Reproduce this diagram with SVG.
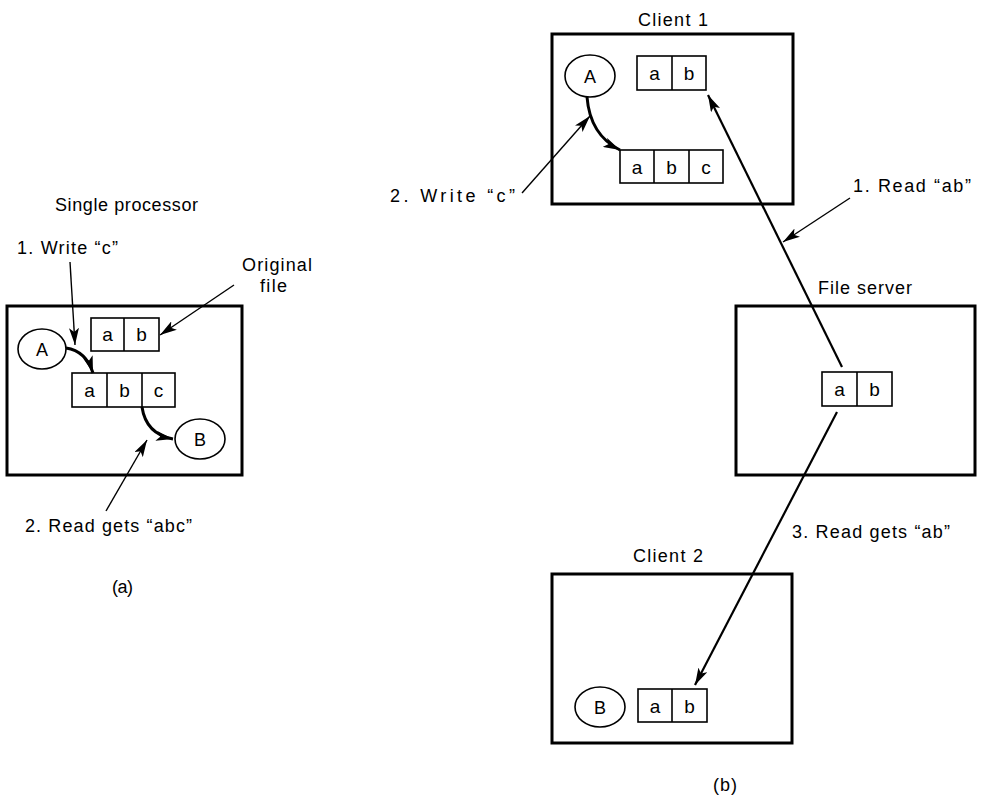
<svg xmlns="http://www.w3.org/2000/svg" width="981" height="797" viewBox="0 0 981 797">
<style>
text{font-family:"Liberation Sans",Arial,sans-serif;fill:#000}
.lbl{font-size:18px}
.cell{font-size:19px;text-anchor:middle}
.proc{font-size:18px;text-anchor:middle}
.box{fill:none;stroke:#000;stroke-width:3}
.c{fill:#fff;stroke:#000;stroke-width:1.6}
.e{fill:#fff;stroke:#000;stroke-width:1.6}
.thin{fill:none;stroke:#000;stroke-width:1.4}
.main{fill:none;stroke:#000;stroke-width:2.2}
.curve{fill:none;stroke:#000;stroke-width:3}
</style>
<defs>
<marker id="ah" viewBox="0 0 17 10" markerUnits="userSpaceOnUse" markerWidth="17" markerHeight="10" refX="17" refY="5" orient="auto">
<path d="M0,0 L17,5 L0,10 L4,5 Z" fill="#000"/>
</marker>
</defs>
<rect width="981" height="797" fill="#fff"/>

<!-- (a) Single processor -->
<g id="single-processor">
<rect class="box" x="7" y="306" width="235" height="169"/>
<text class="lbl" x="55" y="211" textLength="143" lengthAdjust="spacing">Single processor</text>
</g>
<g id="a-original">
<rect class="c" x="91" y="318" width="68" height="33"/>
<line class="c" x1="124" y1="318" x2="124" y2="351"/>
<text class="cell" x="107.5" y="341">a</text>
<text class="cell" x="141.5" y="341">b</text>
</g>
<g id="a-new">
<rect class="c" x="72" y="373" width="103" height="34"/>
<line class="c" x1="107" y1="373" x2="107" y2="407"/>
<line class="c" x1="142" y1="373" x2="142" y2="407"/>
<text class="cell" x="89.5" y="397">a</text>
<text class="cell" x="124.5" y="397">b</text>
<text class="cell" x="158.5" y="397">c</text>
</g>
<g id="a-procA">
<ellipse class="e" cx="42" cy="349" rx="24" ry="20"/>
<text class="proc" x="42" y="355.5">A</text>
</g>
<g id="a-procB">
<ellipse class="e" cx="200" cy="439" rx="25" ry="20"/>
<text class="proc" x="200" y="445.5">B</text>
</g>
<g id="a-labels">
<text class="lbl" x="17" y="254" textLength="101" lengthAdjust="spacing">1. Write “c”</text>
<text class="lbl" x="242" y="271" textLength="70" lengthAdjust="spacing">Original</text>
<text class="lbl" x="260" y="292" textLength="27" lengthAdjust="spacing">file</text>
<text class="lbl" x="25" y="532" textLength="167" lengthAdjust="spacing">2. Read gets “abc”</text>
<text class="lbl" x="112" y="593" textLength="21" lengthAdjust="spacing">(a)</text>
</g>

<!-- (b) Distributed -->
<g id="client1">
<rect class="box" x="552" y="34" width="241" height="170"/>
<text class="lbl" x="638" y="26" textLength="70" lengthAdjust="spacing">Client 1</text>
</g>
<g id="c1-procA">
<ellipse class="e" cx="590" cy="76" rx="25" ry="21"/>
<text class="proc" x="590" y="82.5">A</text>
</g>
<g id="c1-ab">
<rect class="c" x="637" y="56" width="69" height="34"/>
<line class="c" x1="672" y1="56" x2="672" y2="90"/>
<text class="cell" x="654.5" y="80">a</text>
<text class="cell" x="689" y="80">b</text>
</g>
<g id="c1-abc">
<rect class="c" x="620" y="150" width="103" height="33"/>
<line class="c" x1="654" y1="150" x2="654" y2="183"/>
<line class="c" x1="689" y1="150" x2="689" y2="183"/>
<text class="cell" x="637" y="173.5">a</text>
<text class="cell" x="671.5" y="173.5">b</text>
<text class="cell" x="706" y="173.5">c</text>
</g>
<g id="fileserver">
<rect class="box" x="736" y="306" width="239" height="169"/>
<text class="lbl" x="818" y="294" textLength="94" lengthAdjust="spacing">File server</text>
</g>
<g id="fs-ab">
<rect class="c" x="822" y="372" width="70" height="34"/>
<line class="c" x1="857" y1="372" x2="857" y2="406"/>
<text class="cell" x="839.5" y="396">a</text>
<text class="cell" x="874.5" y="396">b</text>
</g>
<g id="client2">
<rect class="box" x="552" y="574" width="240" height="169"/>
<text class="lbl" x="633" y="562" textLength="70" lengthAdjust="spacing">Client 2</text>
</g>
<g id="c2-procB">
<ellipse class="e" cx="600" cy="707" rx="25" ry="20"/>
<text class="proc" x="600" y="713.5">B</text>
</g>
<g id="c2-ab">
<rect class="c" x="638" y="689" width="69" height="33"/>
<line class="c" x1="672" y1="689" x2="672" y2="722"/>
<text class="cell" x="655" y="712.5">a</text>
<text class="cell" x="689.5" y="712.5">b</text>
</g>
<g id="b-labels">
<text class="lbl" x="390" y="202" textLength="125" lengthAdjust="spacing">2. Write “c”</text>
<text class="lbl" x="853" y="192" textLength="118" lengthAdjust="spacing">1. Read “ab”</text>
<text class="lbl" x="792" y="538" textLength="158" lengthAdjust="spacing">3. Read gets “ab”</text>
<text class="lbl" x="713" y="791" textLength="24" lengthAdjust="spacing">(b)</text>
</g>

<g id="connectors">
<!-- (a) -->
<path class="curve" d="M66,348 Q86,351 93,373" marker-end="url(#ah)"/>
<path class="curve" d="M142,407 Q146,434 173,439" marker-end="url(#ah)"/>
<line class="thin" x1="70" y1="262" x2="75" y2="345" marker-end="url(#ah)"/>
<line class="thin" x1="234" y1="285" x2="160" y2="335" marker-end="url(#ah)"/>
<line class="thin" x1="106" y1="511" x2="147" y2="440" marker-end="url(#ah)"/>
<!-- (b) -->
<path class="curve" d="M587,97 Q590,135 620,150" marker-end="url(#ah)"/>
<line class="thin" x1="522" y1="193" x2="590" y2="116" marker-end="url(#ah)"/>
<line class="main" x1="842" y1="367" x2="708" y2="95" marker-end="url(#ah)"/>
<line class="thin" x1="850" y1="198" x2="783" y2="242" marker-end="url(#ah)"/>
<line class="main" x1="837" y1="412" x2="695" y2="685" marker-end="url(#ah)"/>
</g>
</svg>
